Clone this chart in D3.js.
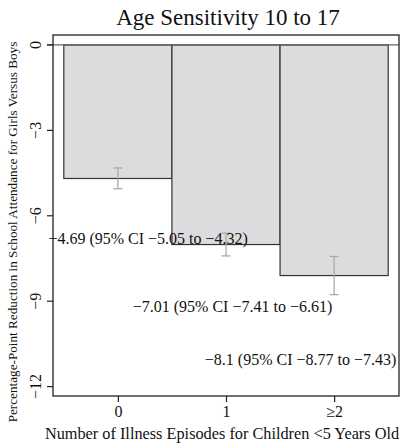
<!DOCTYPE html>
<html>
<head>
<meta charset="utf-8">
<script src="https://cdn.jsdelivr.net/npm/d3@7"></script>
<style>
  body { margin: 0; background: #fff; }
  svg text { font-family: "Liberation Serif", "DejaVu Serif", serif; fill: #111; }
</style>
</head>
<body>
<svg id="chart" width="402" height="444"></svg>
<script>
/*    ========    DATA    =========    */

var categories = ["0", "1", "≥2"];
var estimates = [-4.69, -7.01, -8.1];
var ciLow = [-5.05, -7.41, -8.77];
var ciHigh = [-4.32, -6.61, -7.43];
var yTicks = [0, -3, -6, -9, -12];

// where each annotation sits, in data units (x index, y value)
var labelX = [0.28, 1.06, 1.69];
var labelY = [-6.78, -9.2, -11.06];

/*    ========    SETTINGS    =========    */

var svg = d3.select('#chart');

var box = { left: 53, right: 399, top: 35, bottom: 396 };

var barFill = "#dcdcde";
var barStroke = "#333";
var ciColor = "#aaaaaa";

function fmt(v) {
    return String(v).replace("-", "\u2212");
}

/*    ========    SCALES    =========    */

var scale_x = d3.scaleLinear()
    .domain([-0.6, 2.6])
    .range([box.left, box.right]);

var scale_y = d3.scaleLinear()
    .domain([0.35, -12.33])
    .range([box.top, box.bottom]);

/*    ========    DRAW    =========    */

// bars
svg.append("g").selectAll("rect")
    .data(estimates)
    .enter().append("rect")
    .attr("x", function(d, i) { return scale_x(i - 0.5); })
    .attr("y", scale_y(0))
    .attr("width", function(d, i) { return scale_x(i + 0.5) - scale_x(i - 0.5); })
    .attr("height", function(d) { return scale_y(d) - scale_y(0); })
    .attr("fill", barFill)
    .attr("stroke", barStroke)
    .attr("stroke-width", 1.2);

// zero line
svg.append("line")
    .attr("x1", box.left - 6).attr("x2", box.right)
    .attr("y1", scale_y(0)).attr("y2", scale_y(0))
    .attr("stroke", "#666").attr("stroke-width", 1.2);

// confidence intervals
var ci = svg.append("g").attr("stroke", ciColor).attr("stroke-width", 1.3);
estimates.forEach(function(d, i) {
    var cx = scale_x(i);
    ci.append("line")
        .attr("x1", cx).attr("x2", cx)
        .attr("y1", scale_y(ciLow[i])).attr("y2", scale_y(ciHigh[i]));
    [ciLow[i], ciHigh[i]].forEach(function(v) {
        ci.append("line")
            .attr("x1", cx - 4.5).attr("x2", cx + 4.5)
            .attr("y1", scale_y(v)).attr("y2", scale_y(v));
    });
});

// plot frame
svg.append("rect")
    .attr("x", box.left).attr("y", box.top)
    .attr("width", box.right - box.left).attr("height", box.bottom - box.top)
    .attr("fill", "none").attr("stroke", "#222").attr("stroke-width", 1.3);

// y axis (labels turned like R's default)
var axis_y = svg.append("g");
yTicks.forEach(function(t) {
    var y = scale_y(t);
    axis_y.append("line")
        .attr("x1", box.left - 6).attr("x2", box.left)
        .attr("y1", y).attr("y2", y)
        .attr("stroke", "#222").attr("stroke-width", 1.2);
    axis_y.append("text")
        .attr("transform", "translate(41," + y + ") rotate(-90)")
        .attr("text-anchor", "middle")
        .attr("font-size", 16)
        .text(fmt(t));
});

// x axis
var axis_x = svg.append("g")
    .attr("transform", "translate(0," + box.bottom + ")")
    .call(d3.axisBottom(scale_x)
        .tickValues([0, 1, 2])
        .tickFormat(function(d) { return categories[d]; })
        .tickSize(6)
        .tickPadding(4));
axis_x.select(".domain").remove();
axis_x.selectAll("line").attr("stroke", "#222").attr("stroke-width", 1.2);
axis_x.selectAll("text")
    .attr("font-size", 16)
    .attr("font-family", "Liberation Serif")
    .attr("fill", "#111");

// annotations
svg.append("g").selectAll("text")
    .data(estimates)
    .enter().append("text")
    .attr("x", function(d, i) { return scale_x(labelX[i]); })
    .attr("y", function(d, i) { return scale_y(labelY[i]); })
    .attr("dy", "0.35em")
    .attr("text-anchor", "middle")
    .attr("font-size", 16)
    .text(function(d, i) {
        return fmt(d) + " (95% CI " + fmt(ciLow[i]) + " to " + fmt(ciHigh[i]) + ")";
    });

// titles
svg.append("text")
    .attr("x", (box.left + box.right) / 2 + 2).attr("y", 25)
    .attr("text-anchor", "middle")
    .attr("font-size", 23)
    .text("Age Sensitivity 10 to 17");

svg.append("text")
    .attr("x", (box.left + box.right) / 2 - 4).attr("y", 439)
    .attr("text-anchor", "middle")
    .attr("font-size", 16.3)
    .text("Number of Illness Episodes for Children <5 Years Old");

svg.append("text")
    .attr("transform", "translate(17," + 232 + ") rotate(-90)")
    .attr("text-anchor", "middle")
    .attr("font-size", 13.2)
    .text("Percentage-Point Reduction in School Attendance for Girls Versus Boys");
</script>
</body>
</html>
